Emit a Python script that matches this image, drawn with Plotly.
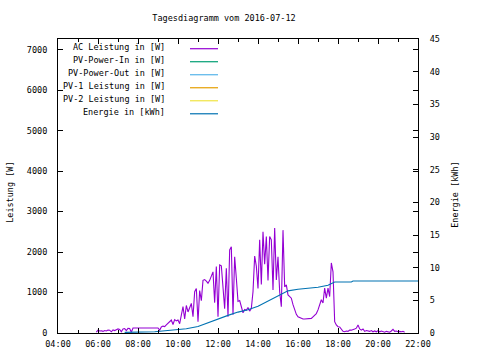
import plotly.graph_objects as go

DAY = "2016-07-12 "

# AC power samples (5-minute steps), watts
ac_times = [
    "05:55", "06:00", "06:05", "06:10", "06:15", "06:20", "06:25", "06:30", "06:35", "06:40",
    "06:45", "06:50", "06:55", "07:00", "07:05", "07:10", "07:15", "07:20", "07:25", "07:30",
    "07:35", "07:40", "07:45", "08:00", "08:30", "09:00", "09:05", "09:10", "09:15", "09:20",
    "09:25", "09:30", "09:35", "09:40", "09:45", "09:50", "09:55", "10:00", "10:05", "10:10",
    "10:15", "10:20", "10:25", "10:30", "10:35", "10:40", "10:45", "10:50", "10:55", "11:00",
    "11:05", "11:10", "11:15", "11:20", "11:25", "11:30", "11:35", "11:40", "11:45", "11:50",
    "11:55", "12:00", "12:05", "12:10", "12:15", "12:20", "12:25", "12:30", "12:35", "12:40",
    "12:45", "12:50", "12:55", "13:00", "13:05", "13:10", "13:15", "13:20", "13:25", "13:30",
    "13:35", "13:40", "13:45", "13:50", "13:55", "14:00", "14:05", "14:10", "14:15", "14:20",
    "14:25", "14:30", "14:35", "14:40", "14:45", "14:50", "14:55", "15:00", "15:05", "15:10",
    "15:15", "15:20", "15:25", "15:30", "15:35", "15:40", "15:45", "15:50", "15:55", "16:00",
    "16:05", "16:10", "16:15", "16:20", "16:25", "16:30", "16:35", "16:40", "16:45", "16:50",
    "16:55", "17:00", "17:05", "17:10", "17:15", "17:20", "17:25", "17:30", "17:35", "17:40",
    "17:45", "17:50", "17:55", "18:00", "18:05", "18:10", "18:15", "18:20", "18:25", "18:30",
    "18:35", "18:40", "18:45", "18:50", "18:55", "19:00", "19:05", "19:10", "19:15", "19:20",
    "19:25", "19:30", "19:35", "19:40", "19:45", "19:50", "19:55", "20:00", "20:05", "20:10",
    "20:15", "20:20", "20:25", "20:30", "20:35", "20:40", "20:45", "20:50", "20:55", "21:00",
    "21:05", "21:10", "21:15", "21:20",
]
ac_power = [
    20, 70, 50, 55, 40, 60, 50, 75, 70, 30,
    75, 60, 80, 100, 90, 30, 100, 110, 60, 115,
    110, 20, 125, 125, 125, 125, 70, 150, 170, 160,
    200, 240, 260, 320, 210, 330, 300, 320, 230, 450,
    650, 350, 680, 520, 620, 730, 400, 1020, 1100, 280,
    1050, 800, 1300, 1320, 1280, 1230, 1300, 1430, 1510, 750,
    1640, 400, 1680, 1660, 1060, 600, 1600, 400, 2050, 2130,
    450, 1880, 1350, 780, 800, 620, 500, 580, 560, 630,
    540, 610, 1020, 1900, 1650, 1100, 2300, 1200, 2500, 1700,
    2380, 1300, 2380, 2300, 1060, 2590, 1310, 1880, 1020, 650,
    2540, 1140, 1190, 940, 900, 860, 700, 560, 460, 400,
    380, 360, 345, 345, 345, 345, 345, 360, 400, 440,
    480, 570, 700, 820, 740, 1110, 860, 1110, 900, 1730,
    1510, 280, 200, 155, 150, 100, 40, 30, 50, 40,
    75, 70, 80, 100, 120, 200, 100, 70, 100, 40,
    60, 50, 40, 60, 30, 50, 30, 60, 30, 50,
    40, 20, 40, 30, 20, 50, 90, 40, 50, 30,
    40, 30, 40, 20,
]

# Cumulative energy, kWh
energy_times = [
    "07:20", "08:50", "09:45", "10:25", "11:00", "11:30", "12:00", "12:30", "13:00", "13:30",
    "14:00", "14:30", "15:00", "15:30", "16:00", "16:30", "17:00", "17:30", "17:50", "18:40",
    "18:45", "22:00",
]
energy_kwh = [
    0.1, 0.2, 0.45, 0.65, 1.0, 1.6, 2.15, 2.7, 3.2, 3.55,
    4.1, 4.9, 5.7, 6.45, 6.7, 6.85, 7.0, 7.3, 7.8, 7.8,
    7.95, 7.95,
]

legend_labels = ["AC Leistung in [W]", "PV-Power-In in [W]", "PV-Power-Out in [W]",
                 "PV-1 Leistung in [W]", "PV-2 Leistung in [W]", "Energie in [kWh]"]
legend_colors = ["#9400D3", "#009E73", "#56B4E9", "#E69F00", "#F0E442", "#0072B2"]

x_ticks = ["04:00", "06:00", "08:00", "10:00", "12:00", "14:00", "16:00", "18:00", "20:00", "22:00"]

FONT = "DejaVu Sans Mono"
FS = 8.5

# plot-area geometry in screen pixels
L, R, T, B = 58, 418, 39.3, 333
W, H = R - L, B - T


def px(xp):
    return (xp - L) / W


def py(yp):
    return (B - yp) / H


fig = go.Figure()
fig.add_trace(go.Scatter(
    x=[DAY + t for t in ac_times], y=ac_power, mode="lines",
    line=dict(color=legend_colors[0], width=1.1), showlegend=False))
fig.add_trace(go.Scatter(
    x=[DAY + t for t in energy_times], y=energy_kwh, mode="lines", yaxis="y2",
    line=dict(color=legend_colors[5], width=1.1), showlegend=False))

axis_common = dict(showgrid=False, zeroline=False, showline=True, linecolor="black",
                   linewidth=1, ticks="inside", tickcolor="black", ticklen=5,
                   tickfont=dict(family=FONT, size=FS, color="black"))

fig.update_layout(
    width=480, height=360,
    margin=dict(l=L, r=480 - R, t=T, b=360 - B, pad=0),
    paper_bgcolor="white", plot_bgcolor="white",
    font=dict(family=FONT, size=FS, color="black"),
    showlegend=False,
    title=dict(text="Tagesdiagramm vom 2016-07-12", x=224 / 480, xanchor="center",
               y=1 - 18 / 360, yanchor="middle", font=dict(family=FONT, size=FS)),
    xaxis=dict(**axis_common, type="date", range=[DAY + "04:00", DAY + "22:00"],
               tickmode="array", tickvals=[DAY + t for t in x_ticks], ticktext=x_ticks,
               mirror="ticks", ticklabelstandoff=3,
               minor=dict(dtick=3600000, tick0=DAY + "04:00", ticks="inside", ticklen=3,
                          tickcolor="black")),
    yaxis=dict(**axis_common, range=[0, 7260], tickmode="linear", tick0=0, dtick=1000,
               mirror="ticks", ticklabelstandoff=8),
    yaxis2=dict(**axis_common, range=[0, 45], tickmode="linear", tick0=0, dtick=5,
                overlaying="y", side="right", ticklabelstandoff=9),
)

annotations = [
    dict(text="Leistung [W]", x=px(10), y=py(193), xref="paper", yref="paper",
         textangle=-90, showarrow=False, xanchor="center", yanchor="middle",
         font=dict(family=FONT, size=FS)),
    dict(text="Energie [kWh]", x=px(455), y=py(195), xref="paper", yref="paper",
         textangle=-90, showarrow=False, xanchor="center", yanchor="middle",
         font=dict(family=FONT, size=FS)),
]
shapes = []
row_y = [47, 60, 73, 86, 99, 112]
for lab, col, ry in zip(legend_labels, legend_colors, row_y):
    annotations.append(dict(text=lab, x=px(167), y=py(ry), xref="paper", yref="paper",
                            showarrow=False, xanchor="right", yanchor="middle",
                            font=dict(family=FONT, size=FS)))
    shapes.append(dict(type="line", xref="paper", yref="paper", x0=px(190), x1=px(218),
                       y0=py(ry + 2), y1=py(ry + 2), line=dict(color=col, width=1.2)))
fig.update_layout(annotations=annotations, shapes=shapes)

fig.write_html("out.html", config={"displayModeBar": False},
               post_script="document.body.style.margin='0px';document.body.style.padding='0px';")
